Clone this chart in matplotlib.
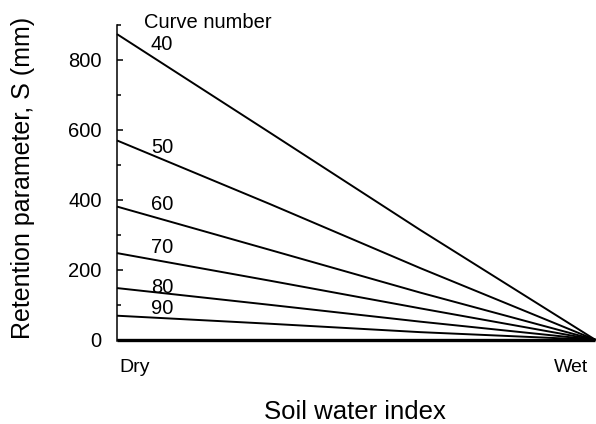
import matplotlib
matplotlib.use("Agg")
import matplotlib.pyplot as plt
from matplotlib.ticker import MultipleLocator

plt.rcParams['font.family'] = ['Liberation Sans', 'DejaVu Sans']

# Soil water index positions (0 = Dry, 1 = Wet)
x_index = [0.0, 0.32, 0.634, 1.0]
curve_numbers = [40, 50, 60, 70, 80, 90, 100]
s_cn40 = [874, 592, 314, 0]
s_cn50 = [570, 388, 205, 0]
s_cn60 = [381, 257, 135, 0]
s_cn70 = [248, 169, 90, 0]
s_cn80 = [148, 100, 52, 0]
s_cn90 = [69, 46, 22, 0]
s_cn100 = [0, 0, 0, 0]
series = [s_cn40, s_cn50, s_cn60, s_cn70, s_cn80, s_cn90, s_cn100]
label_y = [843, 549, 386, 263, 151, 91]
yticks = [0, 200, 400, 600, 800]

fig = plt.figure(figsize=(5.96, 4.24), dpi=100)
ax = fig.add_axes([0.1963, 0.196, 0.8027, 0.745])

for cn, s in zip(curve_numbers, series):
    lw = 2.4 if cn == 100 else 1.4
    ax.plot(x_index, s, color='black', lw=lw, solid_capstyle='butt', clip_on=False)

for cn, ly in zip(curve_numbers[:-1], label_y):
    ax.text(0.094, ly, str(cn), fontsize=14.5, ha='center', va='center')

ax.set_xlim(0, 1)
ax.set_ylim(-3, 900)
for side in ['top', 'right', 'bottom']:
    ax.spines[side].set_visible(False)
ax.spines['left'].set_linewidth(1.1)
ax.set_xticks([])
ax.set_yticks(yticks)
ax.set_yticklabels([str(v) for v in yticks])
ax.yaxis.set_minor_locator(MultipleLocator(100))
ax.tick_params(axis='y', which='major', direction='in', length=4, width=1.1,
               labelsize=14.5, pad=11)
ax.tick_params(axis='y', which='minor', direction='in', length=3, width=1.1)

ax.text(0.006, -0.084, 'Dry', transform=ax.transAxes, fontsize=14,
        ha='left', va='center')
ax.text(0.985, -0.084, 'Wet', transform=ax.transAxes, fontsize=14,
        ha='right', va='center')
ax.text(0.498, -0.225, 'Soil water index', transform=ax.transAxes,
        fontsize=18.5, ha='center', va='center')
ax.text(-0.197, 0.516, 'Retention parameter, S (mm)', transform=ax.transAxes,
        fontsize=18, rotation=90, ha='center', va='center')
ax.text(0.190, 1.009, 'Curve number', transform=ax.transAxes,
        fontsize=14.5, ha='center', va='center', clip_on=False)

fig.savefig('out.png', dpi=100)
